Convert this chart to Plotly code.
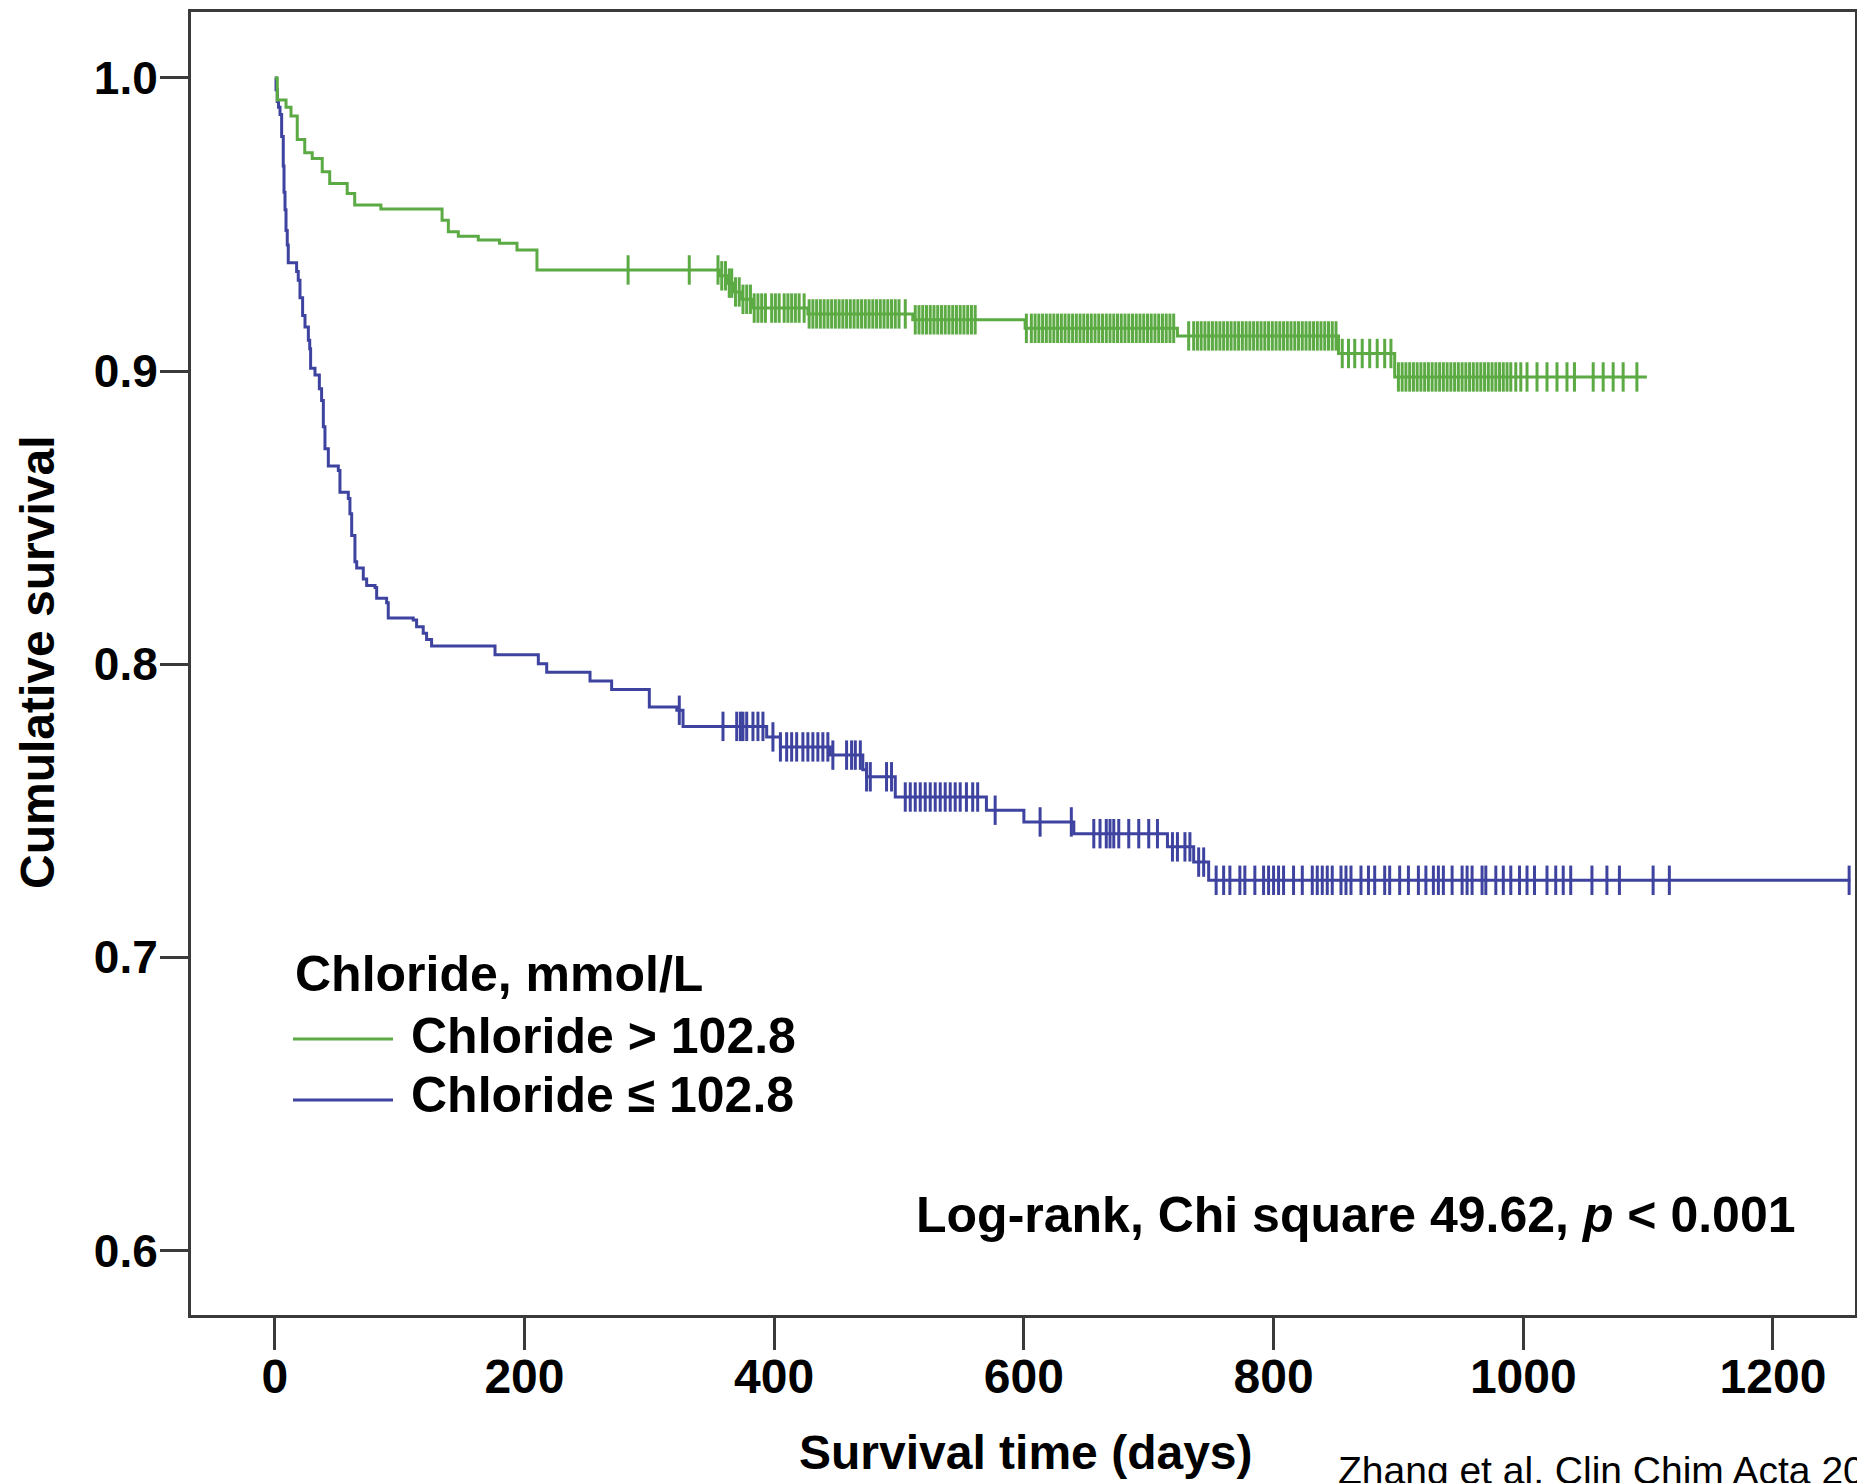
import numpy as np
import plotly.graph_objects as go

# ---------------- data ----------------
# Chloride > 102.8 : Kaplan-Meier step times (days) and survival after each step
hi_times = [0, 2, 9, 13, 18, 24, 30, 38, 44, 58, 64, 85, 134, 139, 147, 163, 180, 194,
            210, 356, 362, 368, 374, 382, 427, 511, 601, 723, 852, 897, 1099]
hi_surv = [1.0, 0.9925, 0.990, 0.987, 0.979, 0.9745, 0.9725, 0.968, 0.964, 0.9606, 0.9567,
           0.9553, 0.9515, 0.9475, 0.946, 0.9447, 0.9436, 0.9413, 0.9345, 0.9325, 0.930,
           0.927, 0.9245, 0.9215, 0.9195, 0.9175, 0.9146, 0.912, 0.906, 0.898, 0.898]
hi_censor = [283, 332,
             355, 358, 361, 364, 366, 369, 372, 375, 378, 381, 384, 387, 390, 393,
             398, 401, 404, 408, 411, 414, 417, 420, 424, 428,
             431, 434, 437, 440, 443, 446, 449, 452, 455, 458, 461, 464, 467, 470, 473,
             476, 479, 482, 485, 488, 491, 494, 497, 500, 505,
             513, 516, 519, 522, 525, 528, 531, 534, 537, 540, 543, 546, 549, 552, 555,
             558, 561, 602,
             606, 609, 612, 615, 618, 621, 624, 627, 630, 633, 636, 639, 642, 645, 648,
             651, 654, 657, 660, 663, 666, 669, 672, 675, 678, 681, 684, 687, 690, 693,
             696, 699, 702, 705, 708, 711, 714, 717, 720, 732,
             736, 739, 742, 745, 748, 751, 754, 757, 760, 763, 766, 769, 772, 775, 778,
             781, 784, 787, 790, 793, 796, 799, 802, 805, 808, 811, 814, 817, 820, 823,
             826, 829, 832, 835, 838, 841, 844, 847, 850,
             855, 860, 865, 871, 877, 883, 889, 894,
             900, 903, 906, 909, 912, 915, 918, 921, 924, 927, 930, 933, 936, 939, 942,
             945, 948, 951, 954, 957, 960, 963, 966, 969, 972, 975, 978, 981, 984, 987,
             990, 994, 998,
             1003, 1011, 1019, 1027, 1035, 1041, 1056, 1064, 1072, 1080, 1091]

# Chloride <= 102.8
lo_times = [0, 1, 2, 3, 4.2, 5.5, 6.8, 7.4, 8.2, 9, 10, 10.8, 17.5, 18.8, 20.2, 22.3, 24.2,
            26.9, 28, 28.7, 32.2, 35.7, 37.5, 38.9, 40.2, 42.9, 50.9, 52.2, 58.9, 60.2,
            61.6, 64.2, 65.6, 70.9, 73.6, 80.3, 81.6, 89.6, 90.9, 110.9, 113.6, 118.9,
            121.6, 125.6, 176.4, 211.1, 217.8, 252.5, 269.8, 300, 322, 327, 394, 405,
            445, 471, 474, 497, 570, 600, 640, 715, 736, 748, 1262]
lo_surv = [1.0, 0.996, 0.992, 0.990, 0.9875, 0.980, 0.970, 0.961, 0.955, 0.948, 0.943,
           0.937, 0.934, 0.931, 0.925, 0.919, 0.915, 0.9105, 0.9076, 0.901, 0.8987, 0.894,
           0.890, 0.881, 0.8735, 0.8676, 0.8661, 0.8587, 0.8565, 0.8513, 0.8439, 0.835,
           0.8328, 0.8291, 0.8269, 0.8262, 0.8225, 0.821, 0.8158, 0.8151, 0.8128, 0.8106,
           0.8084, 0.8062, 0.8032, 0.8002, 0.7973, 0.7943, 0.7914, 0.7854, 0.7843, 0.7788,
           0.7752, 0.7718, 0.769, 0.764, 0.7616, 0.7547, 0.7502, 0.7462, 0.7422, 0.7377,
           0.7325, 0.7263, 0.7263]
lo_censor = [324, 359, 370, 373, 375, 378, 383, 387, 391, 399, 405, 410, 414, 418, 423, 427,
             431, 435, 439, 443, 447, 458, 462, 465, 469, 474, 477, 490, 494,
             505, 509, 513, 517, 521, 525, 529, 533, 537, 541, 545, 549, 554, 559, 563,
             577, 613, 638, 656, 661, 666, 669, 672, 676, 684, 692, 700, 707,
             719, 723, 729, 733, 740, 744,
             754, 760, 765, 773, 777, 785, 792, 796, 800, 804, 808, 816, 823, 831, 835,
             839, 843, 847, 854, 858, 862, 870, 876, 881, 889, 893, 901, 908, 916, 922,
             928, 932, 936, 943, 951, 955, 959, 967, 970, 978, 984, 990, 997, 1003, 1009,
             1019, 1026, 1032, 1038, 1055, 1067, 1077, 1104, 1117, 1261]

x_ticks = [0, 200, 400, 600, 800, 1000, 1200]
y_ticks = [0.6, 0.7, 0.8, 0.9, 1.0]
y_ticktext = ["0.6", "0.7", "0.8", "0.9", "1.0"]

group_names = ["Chloride &gt; 102.8", "Chloride ≤ 102.8"]
legend_title = "Chloride, mmol/L"
stat_text = "Log-rank, Chi square 49.62, <i>p</i> &lt; 0.001"
x_title = "Survival time (days)"
y_title = "Cumulative survival"
credit = "Zhang et al. Clin Chim Acta 20"

# ---------------- styling ----------------
GREEN = "#5CAA43"
BLUE = "#3E43A0"
FONT = "Liberation Sans, Arial, sans-serif"
AX = "#3a3a3a"


def censor_y(times, surv, cens):
    t = np.asarray(times, dtype=float)
    s = np.asarray(surv, dtype=float)
    idx = np.searchsorted(t, np.asarray(cens, dtype=float), side="right") - 1
    return s[idx]


fig = go.Figure()
for times, surv, cens, col in [(lo_times, lo_surv, lo_censor, BLUE),
                               (hi_times, hi_surv, hi_censor, GREEN)]:
    fig.add_trace(go.Scatter(x=times, y=surv, mode="lines",
                             line=dict(shape="hv", color=col, width=3),
                             showlegend=False, hoverinfo="skip"))
    fig.add_trace(go.Scatter(x=cens, y=censor_y(times, surv, cens), mode="markers",
                             marker=dict(symbol="line-ns", size=21, color=col,
                                         line=dict(width=3, color=col)),
                             showlegend=False, hoverinfo="skip"))

W, H = 1857, 1483
L, R, T, B = 191, 2, 12, 168
pw, ph = W - L - R, H - T - B


def px(x):
    return (x - L) / pw


def py(y):
    return (H - B - y) / ph


bold = dict(family=FONT, color="black", weight="bold")

annotations = [
    dict(text=y_title, x=px(37), y=py(662), textangle=-90, font=dict(size=48, **bold)),
    dict(text=x_title, x=px(1026), y=py(1452), font=dict(size=48, **bold)),
    dict(text=legend_title, x=px(293), y=py(974), xanchor="left", font=dict(size=50, **bold)),
    dict(text=group_names[0], x=px(409), y=py(1036), xanchor="left", font=dict(size=50, **bold)),
    dict(text=group_names[1], x=px(409), y=py(1095), xanchor="left", font=dict(size=50, **bold)),
    dict(text=stat_text, x=px(1798), y=py(1215), xanchor="right", font=dict(size=50, **bold)),
    dict(text=credit, x=px(1336), y=py(1447), xanchor="left", yanchor="top",
         font=dict(size=39, family=FONT, color="black")),
]
for a in annotations:
    a.setdefault("xanchor", "center")
    a.setdefault("yanchor", "middle")
    a.update(xref="paper", yref="paper", showarrow=False)

shapes = [
    dict(type="line", xref="paper", yref="paper", x0=px(293), x1=px(393),
         y0=py(1039), y1=py(1039), line=dict(color=GREEN, width=3)),
    dict(type="line", xref="paper", yref="paper", x0=px(293), x1=px(393),
         y0=py(1100), y1=py(1100), line=dict(color=BLUE, width=3)),
]

fig.update_layout(
    width=W, height=H,
    margin=dict(l=L, r=R, t=T, b=B, autoexpand=False),
    paper_bgcolor="white", plot_bgcolor="white",
    font=dict(family=FONT, color="black"),
    annotations=annotations, shapes=shapes,
    xaxis=dict(range=[-67.1, 1265.7], tickvals=x_ticks, ticks="outside", ticklen=32,
               tickwidth=2.5, tickcolor=AX, showline=True, linewidth=3, linecolor=AX,
               mirror=True, showgrid=False, zeroline=False, ticklabelstandoff=-15,
               tickfont=dict(size=48, **bold)),
    yaxis=dict(range=[0.578, 1.0225], tickvals=y_ticks, ticktext=y_ticktext,
               ticks="outside", ticklen=28, tickwidth=2.5, tickcolor=AX, showline=True,
               linewidth=3, linecolor=AX, mirror=True, showgrid=False, zeroline=False,
               ticklabelstandoff=-7, tickfont=dict(size=46, **bold)),
)

fig.write_html("out.html", config={"displayModeBar": False},
               post_script="document.body.style.margin='0';")
